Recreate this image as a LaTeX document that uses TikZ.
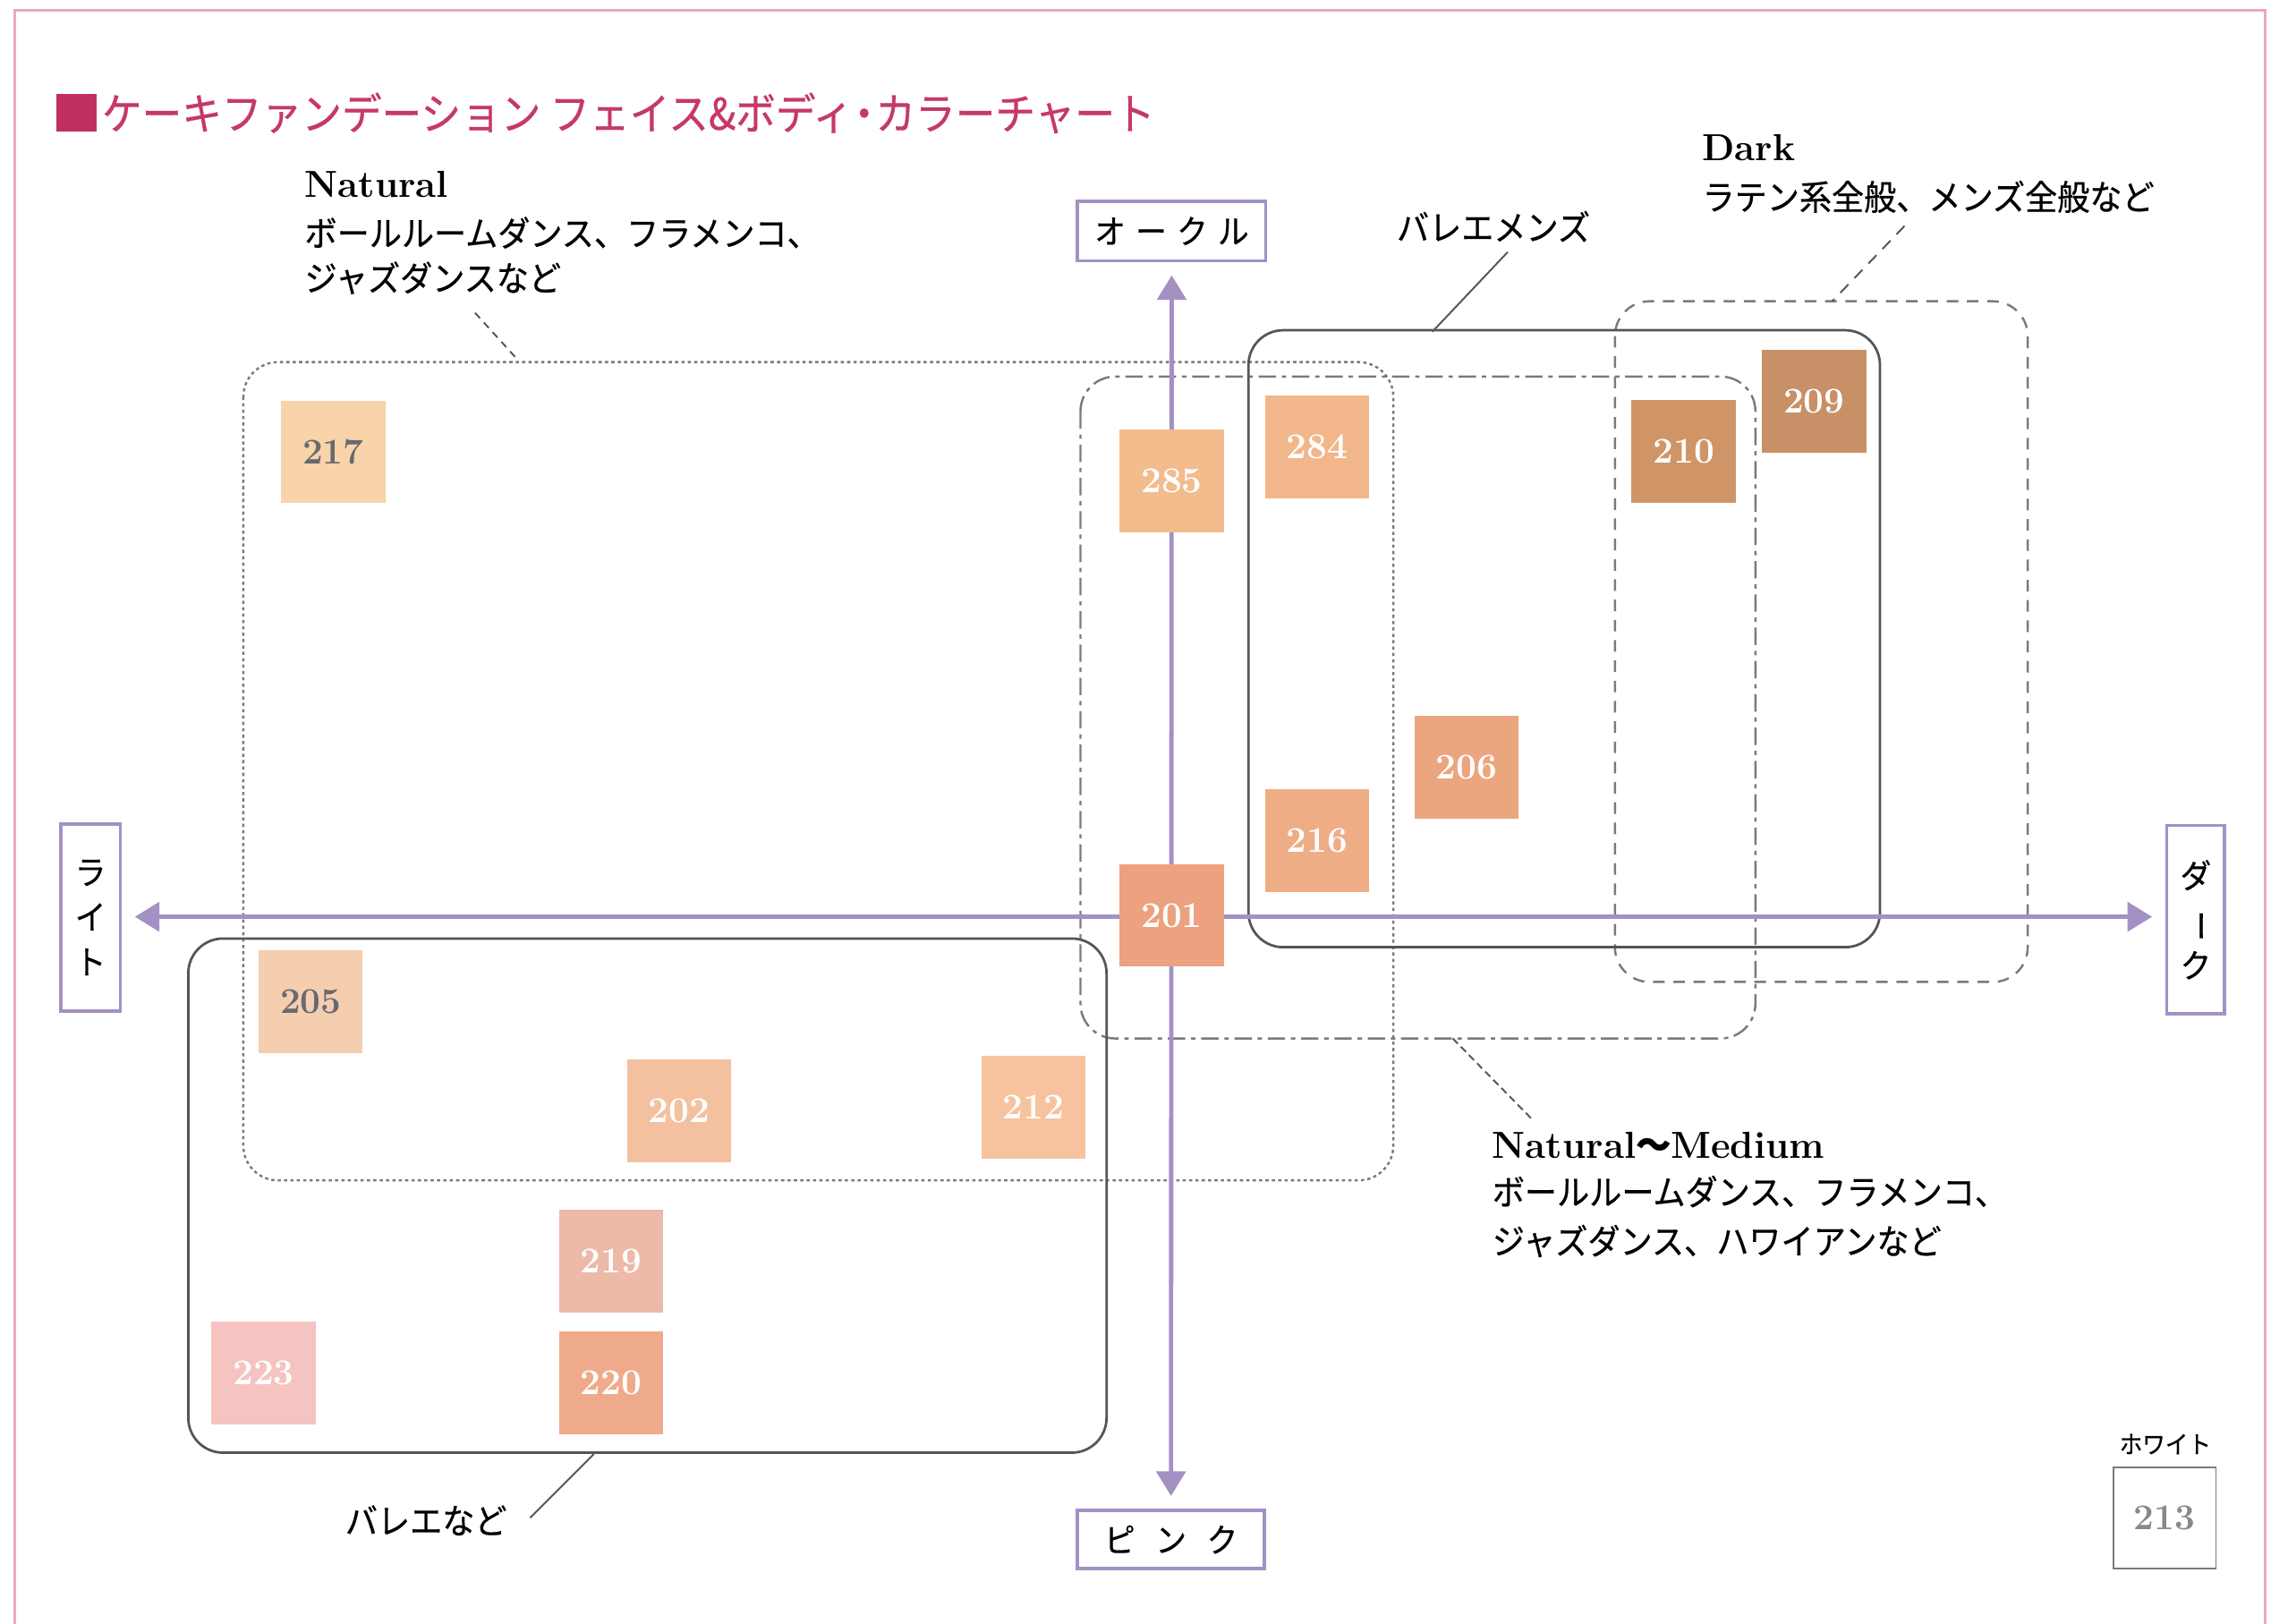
\documentclass[tikz,border=0pt]{standalone}
\usepackage{fontspec}
\usepackage{graphicx}
\usetikzlibrary{arrows.meta}
\newfontfamily\jp[FakeStretch=0.93, FakeBold=0.5]{Noto Sans CJK JP}
\newfontfamily\jpt[FakeStretch=0.92, FakeBold=0.6]{Noto Sans CJK JP}
\definecolor{framec}{HTML}{E9A9C3}
\definecolor{titlec}{HTML}{C6386A}
\definecolor{sqc}{HTML}{C0305F}
\definecolor{axc}{HTML}{A391C4}
\definecolor{boxg}{HTML}{7A7A7A}
\definecolor{boxs}{HTML}{555555}
\definecolor{numg}{HTML}{666A70}
\definecolor{c217}{HTML}{F9D3A9}
\definecolor{c285}{HTML}{F2BC8D}
\definecolor{c284}{HTML}{F1B78B}
\definecolor{c210}{HTML}{D09566}
\definecolor{c209}{HTML}{C79066}
\definecolor{c206}{HTML}{EBA57F}
\definecolor{c216}{HTML}{EFAD86}
\definecolor{c201}{HTML}{ECA27E}
\definecolor{c205}{HTML}{F5CDAF}
\definecolor{c202}{HTML}{F4C1A0}
\definecolor{c212}{HTML}{F7C39E}
\definecolor{c219}{HTML}{EDB9A8}
\definecolor{c220}{HTML}{EFAA8B}
\definecolor{c223}{HTML}{F5C3C0}
\tikzset{
  swatch/.style={minimum width=36pt, minimum height=35.5pt, inner sep=0pt, text=white,
    font=\fontsize{12.5}{14}\selectfont\bfseries},
  axbox/.style={draw=axc, line width=1.1pt, fill=white, inner sep=0pt},
  axis/.style={draw=axc, line width=1.5pt, {Triangle[length=8.5pt,width=10pt]}-{Triangle[length=8.5pt,width=10pt]}, shorten <=4.5pt, shorten >=4.5pt},
  jptxt/.style={font=\jp\fontsize{12}{14}\selectfont, inner sep=0pt, anchor=base west},
  entxt/.style={font=\fontsize{13}{15}\selectfont\bfseries, inner sep=0pt, anchor=base west},
  dotbox/.style={draw=boxg, line width=0.75pt, dash pattern=on 1.1pt off 1.1pt, rounded corners=12pt},
  dashbox/.style={draw=boxg, line width=0.75pt, dash pattern=on 4pt off 3pt, rounded corners=12pt},
  dotdashbox/.style={draw=boxg, line width=0.75pt, dash pattern=on 6pt off 2pt on 1.5pt off 2pt, rounded corners=12pt},
  solidbox/.style={draw=boxs, line width=0.85pt, rounded corners=12pt},
  leader/.style={draw=boxs, line width=0.6pt}
}
\begin{document}
\begin{tikzpicture}[x=0.5pt, y=-0.5pt]
\clip (0,0) rectangle (1568,1121);
\fill[white] (0,0) rectangle (1568,1121);
% frame
\draw[framec, line width=1pt] (10,1140) -- (10,7) -- (1564,7) -- (1564,1140);
% title
\node[fill=sqc, minimum width=14pt, minimum height=13pt, inner sep=0pt] (sq) at (53,78) {};
\node[anchor=base west, inner sep=0pt, text=titlec, font=\jpt\fontsize{15}{17}\selectfont] (title) at (70,89.5) {ケーキファンデーション フェイス\&ボディ{\hspace{-3pt}}・{\hspace{-3pt}}カラーチャート};
% group boxes
\draw[dotbox] (168,250) rectangle (962,815);
\draw[dotdashbox] (746,260) rectangle (1212,717);
\draw[dashbox] (1115,208) rectangle (1400,678);
\draw[solidbox] (862,228) rectangle (1298,654);
\draw[solidbox] (130,648) rectangle (764,1003);
% axis labels
\node[axbox, minimum width=65pt, minimum height=20.5pt, font=\jp\fontsize{11.5}{14}\selectfont] (ochre) at (809,159.5) {オ\hspace{3.5pt}ー\hspace{3.5pt}ク\hspace{3.5pt}ル};
\node[axbox, minimum width=64.5pt, minimum height=20pt, font=\jp\fontsize{11.5}{14}\selectfont] (pink) at (808.5,1063) {ピ\hspace{7pt}ン\hspace{7pt}ク};
\node[axbox, minimum width=20.5pt, minimum height=64.5pt, align=center, font=\jp\fontsize{11.5}{15.5}\selectfont] (light) at (62.5,633.5) {ラ\\イ\\ト};
\node[axbox, minimum width=20pt, minimum height=65pt, align=center, font=\jp\fontsize{11.5}{15.5}\selectfont] (dark) at (1516,635) {ダ\\\rotatebox[origin=c]{-90}{ー}\\ク};
% axes
\draw[axis] (pink.north) -- (ochre.south);
\draw[axis] (light.east |- 0,633) coordinate (lx) -- (dark.west |- 0,633) coordinate (dx);
% swatches
\node[swatch, fill=c217, text=numg] (s217) at (230,312) {217};
\node[swatch, fill=c285] (s285) at (809,332) {285};
\node[swatch, fill=c284] (s284) at (909.5,308.5) {284};
\node[swatch, fill=c210] (s210) at (1162.5,311.5) {210};
\node[swatch, fill=c209] (s209) at (1252.5,277) {209};
\node[swatch, fill=c206] (s206) at (1012.5,529.5) {206};
\node[swatch, fill=c216] (s216) at (909.5,580.5) {216};
\node[swatch, fill=c201] (s201) at (809,632) {201};
\node[swatch, fill=c205, text=numg] (s205) at (214.5,691.5) {205};
\node[swatch, fill=c202] (s202) at (469,767) {202};
\node[swatch, fill=c212] (s212) at (713.5,764.5) {212};
\node[swatch, fill=c219] (s219) at (422,870.5) {219};
\node[swatch, fill=c220] (s220) at (422,955) {220};
\node[swatch, fill=c223] (s223) at (182,948) {223};
\node[swatch, fill=white, draw=boxg, line width=0.6pt, text=numg!80, minimum width=35.5pt, minimum height=35pt] (s213) at (1494.5,1048) {213};
\node[anchor=base, inner sep=0pt, font=\jp\fontsize{8.5}{10}\selectfont] (white) at (1495,1003.5) {ホワイト};
% Natural label
\node[entxt] (natT) at (210,136) {Natural};
\node[jptxt] (natA) at (210,170) {ボールルームダンス、フラメンコ、};
\node[jptxt] (natB) at (210,201) {ジャズダンスなど};
\coordinate (natL1) at (328,216);
\coordinate (natL2) at (358,249);
\draw[leader, dash pattern=on 2.5pt off 2pt] (natL1) -- (natL2);
% Ballet mens label
\node[jptxt] (bm) at (964,166) {バレエメンズ};
\coordinate (bmL1) at (1041,174);
\coordinate (bmL2) at (989,229);
\draw[leader] (bmL1) -- (bmL2);
% Dark label
\node[entxt] (dkT) at (1175,111) {Dark};
\node[jptxt] (dkA) at (1175,145) {ラテン系全般、メンズ全般など};
\coordinate (dkL1) at (1315,156);
\coordinate (dkL2) at (1265,208);
\draw[leader, dash pattern=on 4pt off 3pt] (dkL1) -- (dkL2);
% Natural~Medium label
\node[entxt] (nmT) at (1030,800) {Natural{\jp ～}Medium};
\node[jptxt] (nmA) at (1030,832) {ボールルームダンス、フラメンコ、};
\node[jptxt] (nmB) at (1030,866) {ジャズダンス、ハワイアンなど};
\coordinate (nmL1) at (1003,717);
\coordinate (nmL2) at (1058,773);
\draw[leader, dash pattern=on 2.5pt off 1.5pt] (nmL1) -- (nmL2);
% Ballet label
\node[jptxt] (bl) at (238,1059) {バレエなど};
\coordinate (blL1) at (366,1048);
\coordinate (blL2) at (410,1004);
\draw[leader] (blL1) -- (blL2);
\end{tikzpicture}
\end{document}
